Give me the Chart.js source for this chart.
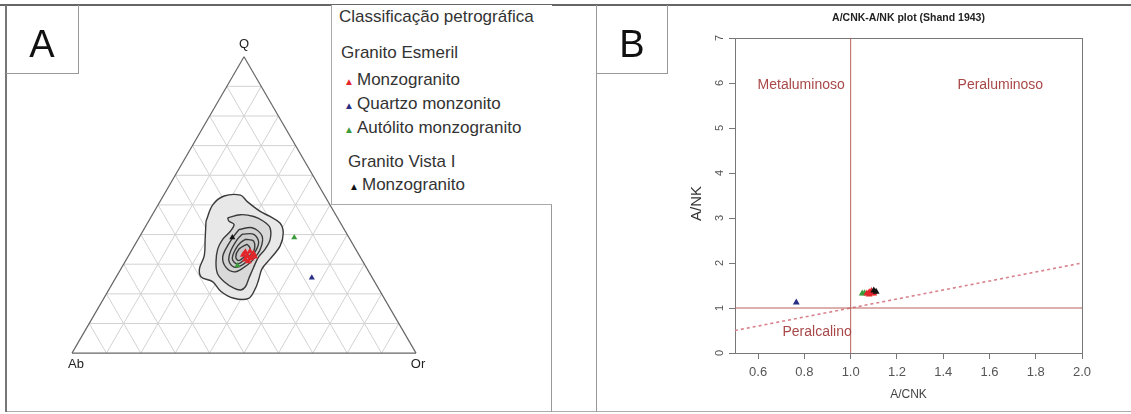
<!DOCTYPE html>
<html>
<head>
<meta charset="utf-8">
<script src="https://cdn.jsdelivr.net/npm/chart.js@4.4.1/dist/chart.umd.min.js"></script>
<style>
  html, body { margin: 0; padding: 0; background: #fff; }
  body { width: 1131px; height: 414px; position: relative; overflow: hidden;
         font-family: "Liberation Sans", Arial, sans-serif; color: #333; }
  canvas { position: absolute; top: 0; }
  #chartA { left: 0; }
  #chartB { left: 596px; }
  .line { position: absolute; }
  #topLine { left: 0; top: 4px; width: 1131px; height: 2px; background: #666; }
  #bottomLine { left: 5px; top: 411px; width: 1126px; height: 1px; background: #aaa; }
  #leftA { left: 5px; top: 5px; width: 2px; height: 407px; background: #777; }
  #rightA { left: 551px; top: 5px; width: 1px; height: 407px; background: #999; }
  #leftB { left: 596px; top: 5px; width: 1px; height: 407px; background: #999; }
  .tag { position: absolute; top: 5px; box-sizing: border-box; border-right: 1px solid #999;
         border-bottom: 1px solid #999; font-size: 38px; color: #111; text-align: center;
         line-height: 78px; height: 69px; }
  #tagA { left: 6px; width: 73px; }
  #tagB { left: 597px; width: 71px; }
  #legendA { position: absolute; left: 331px; top: 5px; width: 221px; height: 200px;
             box-sizing: border-box; border-left: 1px solid #aaa; border-bottom: 1px solid #aaa;
             background: #fff; font-size: 17px; color: #333; }
  #legendA div { position: absolute; white-space: nowrap; line-height: 20px; }
  .mk { font-size: 10px; display: inline-block; width: 13px; }
</style>
</head>
<body>
<canvas id="chartA" width="560" height="414"></canvas>
<canvas id="chartB" width="535" height="414"></canvas>
<div class="line" id="topLine"></div>
<div class="line" id="bottomLine"></div>
<div class="line" id="leftA"></div>
<div class="line" id="rightA"></div>
<div class="line" id="leftB"></div>
<div class="tag" id="tagA">A</div>
<div class="tag" id="tagB">B</div>
<div id="legendA"></div>

<script>
// ─── PANEL A DATA: Q-Ab-Or ternary, values in % (Ab = 100 - Q - Or) ───
const ternaryTicks = [10, 20, 30, 40, 50, 60, 70, 80, 90];
const vertexLabels = ["Q", "Ab", "Or"];

const esmerilMonzoQ   = [34.0, 34.3, 33.5, 32.8, 32.0, 31.6, 31.0, 32.6, 33.2];
const esmerilMonzoOr  = [33.4, 34.6, 36.0, 34.6, 36.0, 34.6, 35.8, 36.8, 33.2];
const esmerilQmzQ     = [25.4];
const esmerilQmzOr    = [57.0];
const autolitoQ       = [39.0, 29.6];
const autolitoOr      = [45.1, 33.3];
const vistaMonzoQ     = [39.0];
const vistaMonzoOr    = [27.1];

// density contours of Granito Vista I, [Q, Or] pairs, outer to inner
const contour1 = [[44.5,16.7],[50.0,15.9],[53.0,17.7],[53.3,22.3],[51.1,25.4],[47.8,30.8],[46.1,34.5],
                  [43.9,38.5],[40.6,41.1],[36.2,42.4],[31.8,41.7],[28.5,41.0],[24.6,41.9],[21.9,42.4],
                  [18.5,42.1],[18.5,37.8],[20.8,32.9],[24.1,28.8],[25.7,24.7],[28.5,22.8],[32.9,22.0],[38.4,19.5]];
const contour2 = [[45.6,22.4],[46.7,25.6],[46.1,29.8],[44.5,33.4],[42.3,36.4],[38.4,38.4],[35.1,38.6],
                  [32.4,38.0],[29.0,38.3],[25.2,38.8],[22.4,39.2],[21.3,38.4],[21.9,36.1],[24.1,32.2],
                  [26.8,28.9],[30.7,26.5],[35.1,24.8],[38.4,24.6],[41.2,25.5],[43.4,25.4],[44.5,23.4]];
const contour3 = [[41.7,27.7],[42.3,31.2],[39.5,35.5],[35.1,37.2],[31.2,36.8],[28.5,35.2],[27.4,33.4],
                  [29.0,30.2],[32.4,27.6],[36.2,27.1],[39.5,27.3]];
const contour4 = [[40.1,29.4],[40.1,32.8],[37.3,35.6],[33.4,36.1],[30.1,34.9],[29.0,32.6],[31.2,30.0],
                  [34.5,28.9],[38.4,28.85]];
const contour5 = [[38.4,31.2],[37.8,33.9],[34.5,35.6],[31.8,34.5],[30.1,33.0],[31.8,30.7],[35.1,30.0],[37.3,30.35]];
const contour6 = [[36.8,32.5],[35.1,34.3],[32.9,34.0],[31.2,32.9],[32.4,31.4],[35.1,31.0]];

// ─── PANEL B DATA: A/CNK vs A/NK (Shand 1943) ───
const bTicksX = [0.6, 0.8, 1.0, 1.2, 1.4, 1.6, 1.8, 2.0];
const bTicksY = [0, 1, 2, 3, 4, 5, 6, 7];

const monzoACNK    = [1.07, 1.08, 1.09, 1.10, 1.08, 1.09, 1.10];
const monzoANK     = [1.32, 1.35, 1.33, 1.36, 1.30, 1.38, 1.32];
const qmzACNK      = [0.765];
const qmzANK       = [1.12];
const autolitoACNK = [1.05, 1.06];
const autolitoANK  = [1.32, 1.33];
const vistaACNK    = [1.10, 1.11];
const vistaANK     = [1.39, 1.36];

// field boundaries
const divideACNK = [1.0, 1.0];
const divideANK  = [0, 7];
const baseACNK   = [0.5, 2.0];
const baseANK    = [1, 1];
const shandACNK  = [0.5, 2.0];
const shandANK   = [0.5, 2.0];

const fieldNames = ["Metaluminoso", "Peraluminoso", "Peralcalino"];

// ─── COLOURS ───
const RED = "#e3262b", BLUE = "#2a2f86", GREEN = "#3c9c3c", BLACK = "#111111";
const FIELD = "#a84848";
const FONT = "'Liberation Sans', Arial, sans-serif";

// ─── LEGEND (HTML, panel A) ───
const legendRows = [
  { text: "Classificação petrográfica", top: 2,   left: 7 },
  { text: "Granito Esmeril",            top: 38,  left: 9 },
  { text: "Monzogranito",               top: 65,  left: 12, color: RED },
  { text: "Quartzo monzonito",          top: 89,  left: 12, color: BLUE },
  { text: "Autólito monzogranito",      top: 113, left: 12, color: GREEN },
  { text: "Granito Vista I",            top: 147, left: 16 },
  { text: "Monzogranito",               top: 170, left: 17, color: BLACK }
];
const legendBox = document.getElementById("legendA");
legendRows.forEach(r => {
  const d = document.createElement("div");
  d.style.top = r.top + "px";
  d.style.left = r.left + "px";
  if (r.color) {
    const m = document.createElement("span");
    m.className = "mk";
    m.style.color = r.color;
    m.textContent = "▲";
    d.appendChild(m);
  }
  d.appendChild(document.createTextNode(r.text));
  legendBox.appendChild(d);
});

// ─── TERNARY HELPERS ───
const SQ3 = Math.sqrt(3) / 2;
function tern(q, or) { return { x: (or + q / 2) / 100, y: q * SQ3 / 100 }; }
function pairs(qs, ors) { return qs.map((q, i) => tern(q, ors[i])); }
function ring(pts) { const r = pts.map(p => tern(p[0], p[1])); r.push(r[0]); return r; }
function zipXY(xs, ys) { return xs.map((x, i) => ({ x, y: ys[i] })); }

function pointDs(data, color, radius) {
  return { data, pointStyle: "triangle", pointRadius: radius, backgroundColor: color,
           borderColor: color, borderWidth: 0, showLine: false, order: 0 };
}
function contourDs(pts, fillColor, order) {
  return { data: ring(pts), showLine: true, fill: "shape", backgroundColor: fillColor,
           borderColor: "#3a3a3a", borderWidth: 1.4, tension: 0.35, pointRadius: 0, order };
}

// triangle outline, 10% grid and vertex labels
const ternaryFrame = {
  id: "ternaryFrame",
  beforeDatasetsDraw(chart) {
    const { ctx, scales: { x, y } } = chart;
    const px = p => [x.getPixelForValue(p.x), y.getPixelForValue(p.y)];
    const seg = (a, b) => {
      const [x1, y1] = px(a), [x2, y2] = px(b);
      ctx.beginPath(); ctx.moveTo(x1, y1); ctx.lineTo(x2, y2); ctx.stroke();
    };
    ctx.save();
    ctx.strokeStyle = "#d2d2d2";
    ctx.lineWidth = 1;
    ternaryTicks.forEach(t => {
      seg(tern(t, 0), tern(t, 100 - t));           // constant Q
      seg(tern(0, t), tern(100 - t, t));           // constant Or
      seg(tern(0, 100 - t), tern(100 - t, 0));     // constant Ab
    });
    ctx.strokeStyle = "#666";
    ctx.lineWidth = 1.2;
    const Q = tern(100, 0), Ab = tern(0, 0), Or = tern(0, 100);
    seg(Ab, Or); seg(Ab, Q); seg(Q, Or);

    ctx.fillStyle = "#222";
    ctx.font = "13px " + FONT;
    ctx.textAlign = "center";
    ctx.textBaseline = "middle";
    const [qx, qy] = px(Q), [ax, ay] = px(Ab), [ox, oy] = px(Or);
    ctx.fillText(vertexLabels[0], qx, qy - 12);
    ctx.fillText(vertexLabels[1], ax + 4, ay + 11);
    ctx.fillText(vertexLabels[2], ox + 2, oy + 11);
    ctx.restore();
  }
};

// pixel anchors of the triangle inside canvas A
const A_W = 560, A_H = 414, A_LEFT = 69, A_RIGHT = 418, A_BASE = 356;
const kA = A_RIGHT - A_LEFT;

new Chart(document.getElementById("chartA"), {
  type: "scatter",
  data: {
    datasets: [
      pointDs(pairs(esmerilMonzoQ, esmerilMonzoOr), RED, 4),
      pointDs(pairs(esmerilQmzQ, esmerilQmzOr), BLUE, 3.5),
      pointDs(pairs(autolitoQ, autolitoOr), GREEN, 3.5),
      pointDs(pairs(vistaMonzoQ, vistaMonzoOr), BLACK, 3.5),
      contourDs(contour6, "#c6c6c6", 1),
      contourDs(contour5, "#c9c9c9", 2),
      contourDs(contour4, "#cdcdcd", 3),
      contourDs(contour3, "#d2d2d2", 4),
      contourDs(contour2, "#d9d9d9", 5),
      contourDs(contour1, "#e8e8e8", 6)
    ]
  },
  options: {
    responsive: false,
    animation: false,
    layout: { padding: 0 },
    plugins: { legend: { display: false }, tooltip: { enabled: false } },
    scales: {
      x: { type: "linear", display: false, min: -A_LEFT / kA, max: (A_W - A_LEFT) / kA },
      y: { type: "linear", display: false, min: -(A_H - A_BASE) / kA, max: A_BASE / kA }
    }
  },
  plugins: [ternaryFrame]
});

// ─── PANEL B ───
const plotDecor = {
  id: "plotDecor",
  beforeDatasetsDraw(chart) {
    const { ctx, chartArea: a } = chart;
    ctx.save();
    ctx.strokeStyle = "#777";
    ctx.lineWidth = 1;
    ctx.strokeRect(a.left + 0.5, a.top + 0.5, a.right - a.left, a.bottom - a.top);
    ctx.restore();
  },
  afterDraw(chart) {
    const { ctx, chartArea: a, scales: { x, y } } = chart;
    ctx.save();
    ctx.textAlign = "center";
    ctx.textBaseline = "middle";
    // rotated y tick labels and y title (R style)
    ctx.fillStyle = "#555";
    ctx.font = "11px " + FONT;
    y.ticks.forEach(t => {
      ctx.save();
      ctx.translate(a.left - 15, y.getPixelForValue(t.value));
      ctx.rotate(-Math.PI / 2);
      ctx.fillText(String(t.value), 0, 0);
      ctx.restore();
    });
    ctx.save();
    ctx.fillStyle = "#333";
    ctx.font = "15px " + FONT;
    ctx.translate(a.left - 38, (a.top + a.bottom) / 2 + 8);
    ctx.rotate(-Math.PI / 2);
    ctx.fillText("A/NK", 0, 0);
    ctx.restore();
    // title
    ctx.fillStyle = "#222";
    ctx.font = "bold 10.5px " + FONT;
    ctx.fillText("A/CNK-A/NK plot (Shand 1943)", (a.left + a.right) / 2, 18);
    // field names
    ctx.fillStyle = FIELD;
    ctx.font = "14px " + FONT;
    ctx.fillText(fieldNames[0], x.getPixelForValue(0.786), y.getPixelForValue(5.95));
    ctx.fillText(fieldNames[1], x.getPixelForValue(1.647), y.getPixelForValue(5.95));
    ctx.fillText(fieldNames[2], x.getPixelForValue(0.855), y.getPixelForValue(0.47));
    ctx.restore();
  }
};

new Chart(document.getElementById("chartB"), {
  type: "scatter",
  data: {
    datasets: [
      pointDs(zipXY(vistaACNK, vistaANK), BLACK, 4),
      pointDs(zipXY(monzoACNK, monzoANK), RED, 4),
      pointDs(zipXY(autolitoACNK, autolitoANK), GREEN, 4),
      pointDs(zipXY(qmzACNK, qmzANK), BLUE, 4),
      { data: zipXY(divideACNK, divideANK), showLine: true, pointRadius: 0,
        borderColor: "#b9615c", borderWidth: 1, order: 2 },
      { data: zipXY(baseACNK, baseANK), showLine: true, pointRadius: 0,
        borderColor: "#b9615c", borderWidth: 1, order: 2 },
      { data: zipXY(shandACNK, shandANK), showLine: true, pointRadius: 0,
        borderColor: "#d9828c", borderWidth: 1.6, borderDash: [3, 3], order: 2 }
    ]
  },
  options: {
    responsive: false,
    animation: false,
    layout: { padding: { top: 38, right: 49, bottom: 0, left: 0 } },
    plugins: { legend: { display: false }, tooltip: { enabled: false } },
    scales: {
      x: {
        type: "linear", min: 0.5, max: 2.0,
        afterBuildTicks: s => { s.ticks = bTicksX.map(v => ({ value: v })); },
        afterFit: s => { s.height = 61; },
        grid: { drawOnChartArea: false, drawTicks: true, tickLength: 6, color: "#777" },
        border: { display: true, color: "#777" },
        ticks: { font: { size: 13 }, color: "#555", padding: 6, maxRotation: 0,
                 callback: v => Number(v).toFixed(1) },
        title: { display: true, text: "A/CNK", font: { size: 12 }, color: "#444",
                 padding: { top: 0, bottom: 12 } }
      },
      y: {
        type: "linear", min: 0, max: 7,
        afterBuildTicks: s => { s.ticks = bTicksY.map(v => ({ value: v })); },
        afterFit: s => { s.width = 139; },
        grid: { drawOnChartArea: false, drawTicks: true, tickLength: 6, color: "#777" },
        border: { display: true, color: "#777" },
        ticks: { display: false },
        title: { display: false }
      }
    }
  },
  plugins: [plotDecor]
});
</script>
</body>
</html>
